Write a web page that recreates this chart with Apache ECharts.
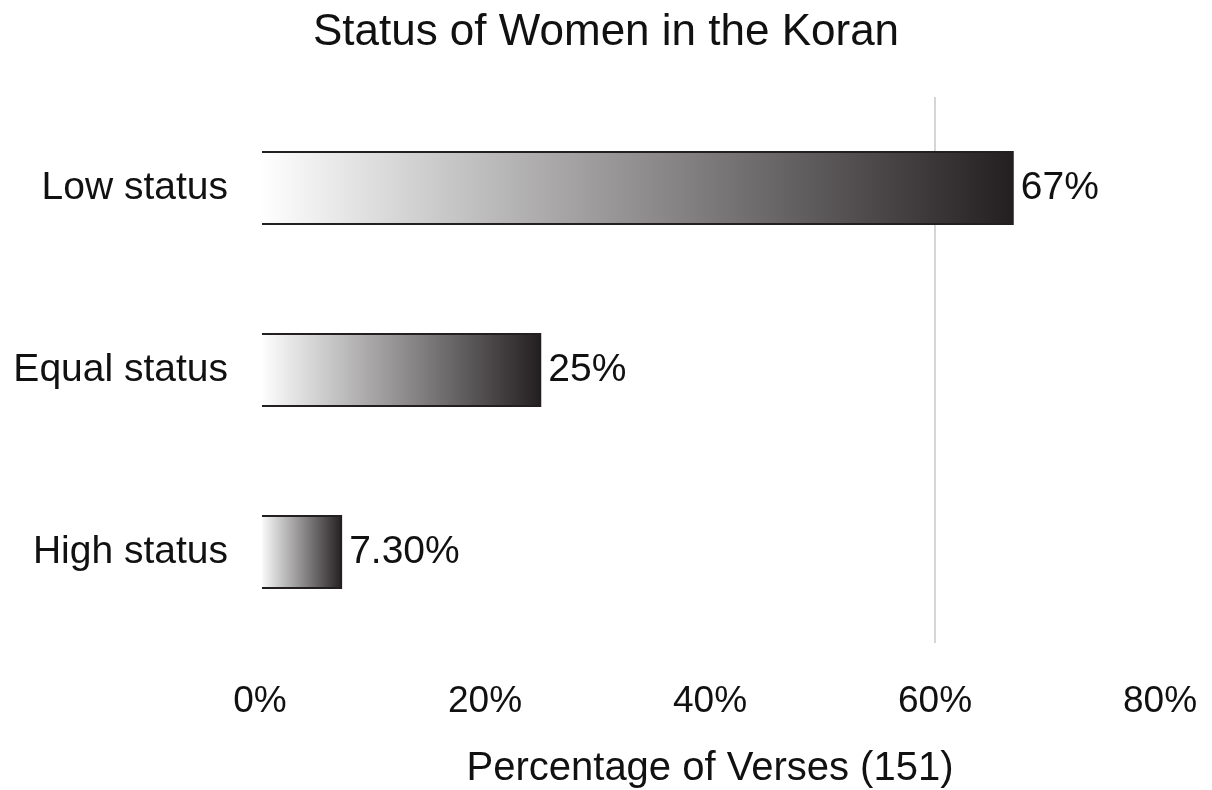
<!DOCTYPE html>
<html>
<head>
<meta charset="utf-8">
<script src="https://cdn.jsdelivr.net/npm/echarts@6/dist/echarts.min.js"></script>
<style>html,body{margin:0;padding:0;background:#fff}#c{width:1212px;height:790px}</style>
</head>
<body>
<div id="c"></div>
<script>
const titleText = 'Status of Women in the Koran';
const categories = ['Low status', 'Equal status', 'High status'];
const values = [67, 25, 7.3];
const valueLabels = ['67%', '25%', '7.30%'];
const xTicks = [0, 20, 40, 60, 80];
const xAxisName = 'Percentage of Verses (151)';

const FONT = '"Liberation Sans", Arial, sans-serif';
const chart = echarts.init(document.getElementById('c'));
chart.setOption({
  backgroundColor: '#fff',
  animation: false,
  title: {
    text: titleText, left: 'center', top: 6,
    textStyle: { fontFamily: FONT, fontSize: 44, fontWeight: 'normal', color: '#111' }
  },
  grid: { left: 260, right: 52, top: 97, bottom: 147, containLabel: false, outerBoundsMode: 'none' },
  xAxis: {
    type: 'value', min: xTicks[0], max: xTicks[xTicks.length - 1], interval: 20,
    name: xAxisName, nameLocation: 'middle', nameGap: 106,
    nameTextStyle: { fontFamily: FONT, fontSize: 40, color: '#111' },
    axisLine: { show: false }, axisTick: { show: false },
    axisLabel: { fontFamily: FONT, fontSize: 37, color: '#111', margin: 40, formatter: v => v + '%' },
    splitLine: { show: true, lineStyle: { color: ['rgba(0,0,0,0)', 'rgba(0,0,0,0)', 'rgba(0,0,0,0)', '#c8c8c8', 'rgba(0,0,0,0)'], width: 1.5 } }
  },
  yAxis: {
    type: 'category', data: categories, inverse: true, z: 10,
    axisLine: { show: true, lineStyle: { color: '#fff', width: 3 } },
    axisTick: { show: false },
    axisLabel: { fontFamily: FONT, fontSize: 39, color: '#111', margin: 32 }
  },
  series: [{
    type: 'bar', data: values, barWidth: 74,
    itemStyle: {
      borderColor: '#231f20', borderWidth: 2,
      color: new echarts.graphic.LinearGradient(0, 0, 1, 0, [
        { offset: 0, color: '#ffffff' },
        { offset: 1, color: '#231f20' }
      ])
    },
    label: {
      show: true, position: 'right', distance: 7,
      fontFamily: FONT, fontSize: 39, color: '#111',
      formatter: p => valueLabels[p.dataIndex]
    }
  }]
});
</script>
</body>
</html>
